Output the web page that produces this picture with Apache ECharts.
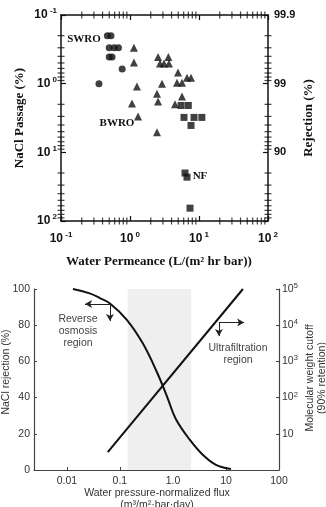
<!DOCTYPE html>
<html>
<head>
<meta charset="utf-8">
<script src="https://cdn.jsdelivr.net/npm/echarts@6/dist/echarts.min.js"></script>
<style>
  html, body { margin: 0; padding: 0; background: #fff; }
  #chart { width: 326px; height: 507px; }
</style>
</head>
<body>
<div id="chart"></div>
<script>
// --- top panel: salt passage vs water permeance (log-log) ---
const swroPerm = [0.47, 0.53, 0.50, 0.59, 0.68, 0.50, 0.55, 0.77, 0.355];
const swroPassage = [0.20, 0.20, 0.30, 0.30, 0.30, 0.41, 0.41, 0.61, 1.0];

const bwroPerm = [1.14, 1.14, 1.26, 1.07, 1.31, 2.46, 2.46, 2.55, 2.91, 2.55, 3.6, 2.72, 3.11, 3.67, 4.96, 6.7, 7.66, 4.8, 5.67, 5.67, 4.49];
const bwroPassage = [0.30, 0.49, 1.10, 1.95, 3.0, 5.1, 1.40, 1.82, 1.0, 0.41, 0.41, 0.51, 0.51, 0.51, 0.69, 0.82, 0.82, 0.97, 0.97, 1.54, 2.0];

const nfPerm = [5.5, 7.0, 6.06, 8.47, 11.0, 7.66, 6.27, 6.7, 7.41];
const nfPassage = [2.08, 2.08, 3.1, 3.1, 3.1, 4.06, 20, 23, 65];

const minorSteps = [2, 3, 4, 5, 6, 7, 8, 9];
const decades = [0.1, 1, 10];

// --- bottom panel: rejection / cutoff vs flux ---
const roFlux = [0.013, 0.027, 0.042, 0.065, 0.135, 0.27, 0.5, 0.8, 1.14, 2.09, 3.68, 6.48, 12.4];
const roRejection = [100, 97.6, 95, 92, 83, 70, 54, 39.5, 28, 16.6, 8.3, 2.8, 0.5];

const ufFlux = [0.059, 20.9];
const ufCutoff = [3.1, 100000];

const nfRange = [0.14, 2.2];

const zip = (a, b) => a.map((v, i) => [v, b[i]]);
const minorTicks = [];
decades.forEach(d => minorSteps.forEach(s => minorTicks.push(+(d * s).toPrecision(3))));

const chart = echarts.init(document.getElementById('chart'));

const serifBold = { fontFamily: 'Liberation Serif', fontWeight: 'bold', fill: '#111' };
const sans = 'Liberation Sans';

const supRich = {
  b: { fontSize: 12, fontWeight: 'bold', fontFamily: sans, color: '#111', lineHeight: 16 },
  s: { fontSize: 8, fontWeight: 'bold', fontFamily: sans, color: '#111', lineHeight: 9, verticalAlign: 'top' }
};
const supRichThin = {
  b: { fontSize: 10.5, fontFamily: sans, color: '#333', lineHeight: 14 },
  s: { fontSize: 7.5, fontFamily: sans, color: '#333', lineHeight: 8, verticalAlign: 'top' }
};

function powLabel(v) {
  const e = Math.round(Math.log10(v));
  return '{b|10}{s| ' + e + '}';
}

const topAxisLine = { show: true, onZero: false, lineStyle: { color: '#111', width: 1.5 } };
const topTick = { show: true, inside: true, length: 5, lineStyle: { color: '#111', width: 1.2 } };
const botAxisLine = { show: true, onZero: false, lineStyle: { color: '#444', width: 1.2 } };
const botTick = { show: true, inside: true, length: 3, lineStyle: { color: '#444', width: 1 } };

// log minor ticks of the top panel: thin marks placed through the axes, straddling the frame
const minorSides = [
  { size: [1.2, 7], pos: v => [v, 100] },
  { size: [1.2, 7], pos: v => [v, 0.1] },
  { size: [7, 1.2], pos: v => [0.1, v] },
  { size: [7, 1.2], pos: v => [100, v] }
];
const minorSeries = minorSides.map(s => ({
  type: 'scatter', xAxisIndex: 0, yAxisIndex: 0, clip: true,
  symbol: 'rect', symbolSize: s.size, itemStyle: { color: '#111' },
  data: minorTicks.map(s.pos)
}));

const option = {
  animation: false,
  backgroundColor: '#fff',
  grid: [
    { left: 61, top: 15, width: 207, height: 206, outerBoundsMode: 'none' },
    { left: 34, top: 289, width: 245, height: 181, outerBoundsMode: 'none' }
  ],
  xAxis: [{
    type: 'log', gridIndex: 0, min: 0.1, max: 100, position: 'bottom',
    axisLine: topAxisLine, axisTick: topTick, splitLine: { show: false },
    axisLabel: { margin: 10, formatter: powLabel, rich: supRich }
  }, {
    type: 'log', gridIndex: 0, min: 0.1, max: 100, position: 'top',
    axisLine: topAxisLine, axisTick: topTick, splitLine: { show: false },
    axisLabel: { show: false }
  }, {
    type: 'log', gridIndex: 1, min: 0.0024, max: 100, position: 'bottom',
    axisLine: botAxisLine, axisTick: botTick, splitLine: { show: false },
    axisLabel: {
      margin: 6, fontSize: 10.5, fontFamily: sans, color: '#333',
      formatter: v => {
        const e = Math.log10(v);
        if (Math.abs(e - Math.round(e)) > 1e-6) return '';
        return { '-2': '0.01', '-1': '0.1', '0': '1.0', '1': '10', '2': '100' }[Math.round(e)] || '';
      }
    }
  }],
  yAxis: [{
    type: 'log', gridIndex: 0, min: 0.1, max: 100, inverse: true, position: 'left',
    axisLine: topAxisLine, axisTick: topTick, splitLine: { show: false },
    axisLabel: { margin: 4, formatter: powLabel, rich: supRich }
  }, {
    type: 'log', gridIndex: 0, min: 0.1, max: 100, inverse: true, position: 'right',
    axisLine: topAxisLine, axisTick: topTick, splitLine: { show: false },
    axisLabel: {
      margin: 6, fontSize: 11, fontWeight: 'bold', fontFamily: sans, color: '#111',
      formatter: v => ({ '-1': '99.9', '0': '99', '1': '90' }[Math.round(Math.log10(v))] || '')
    }
  }, {
    type: 'value', gridIndex: 1, min: 0, max: 100, interval: 20, position: 'left',
    axisLine: botAxisLine, axisTick: botTick, splitLine: { show: false },
    axisLabel: { margin: 4, fontSize: 10.5, fontFamily: sans, color: '#333' }
  }, {
    type: 'log', gridIndex: 1, min: 1, max: 100000, position: 'right',
    axisLine: botAxisLine, axisTick: botTick, splitLine: { show: false },
    axisLabel: {
      margin: 3, rich: supRichThin,
      formatter: v => {
        const e = Math.round(Math.log10(v));
        if (e === 0) return '';
        if (e === 1) return '{b|10}';
        return '{b|10}{s|' + e + '}';
      }
    }
  }],
  series: [{
    name: 'SWRO', type: 'scatter', xAxisIndex: 0, yAxisIndex: 0,
    symbol: 'circle', symbolSize: 7, itemStyle: { color: '#111' },
    data: zip(swroPerm, swroPassage)
  }, {
    name: 'BWRO', type: 'scatter', xAxisIndex: 0, yAxisIndex: 0,
    symbol: 'triangle', symbolSize: 8, itemStyle: { color: '#111' },
    data: zip(bwroPerm, bwroPassage)
  }, {
    name: 'NF', type: 'scatter', xAxisIndex: 0, yAxisIndex: 0,
    symbol: 'rect', symbolSize: 7, itemStyle: { color: '#111' },
    data: zip(nfPerm, nfPassage)
  }].concat(minorSeries, [{
    name: 'NaCl rejection', type: 'line', xAxisIndex: 2, yAxisIndex: 2,
    smooth: 0.4, showSymbol: false, lineStyle: { color: '#111', width: 2 },
    data: zip(roFlux, roRejection),
    markArea: {
      silent: true, itemStyle: { color: '#efefef' },
      data: [[{ xAxis: nfRange[0] }, { xAxis: nfRange[1] }]]
    },
    markLine: {
      silent: true, symbol: ['none', 'arrow'], symbolSize: [6, 7],
      label: { show: false },
      lineStyle: { color: '#222', width: 1, type: 'solid' },
      data: [
        [{ coord: [0.065, 91.7] }, { coord: [0.022, 91.7] }],
        [{ coord: [0.065, 91.7] }, { coord: [0.065, 82.3] }],
        [{ coord: [7.37, 81.5] }, { coord: [7.37, 74.0] }],
        [{ coord: [7.37, 81.5] }, { coord: [22, 81.5] }]
      ]
    }
  }, {
    name: 'MWCO', type: 'line', xAxisIndex: 2, yAxisIndex: 3,
    showSymbol: false, lineStyle: { color: '#111', width: 2 },
    data: zip(ufFlux, ufCutoff)
  }]),
  graphic: [
    { type: 'text', x: 84, y: 39, style: Object.assign({ text: 'SWRO', fontSize: 11, textAlign: 'center', textVerticalAlign: 'middle' }, serifBold) },
    { type: 'text', x: 117, y: 123, style: Object.assign({ text: 'BWRO', fontSize: 11, textAlign: 'center', textVerticalAlign: 'middle' }, serifBold) },
    { type: 'text', x: 200, y: 176, style: Object.assign({ text: 'NF', fontSize: 11, textAlign: 'center', textVerticalAlign: 'middle' }, serifBold) },
    { type: 'text', x: 20, y: 118, rotation: Math.PI / 2, style: Object.assign({ text: 'NaCl Passage (%)', fontSize: 13, textAlign: 'center', textVerticalAlign: 'middle' }, serifBold) },
    { type: 'text', x: 309, y: 118, rotation: Math.PI / 2, style: Object.assign({ text: 'Rejection (%)', fontSize: 13, textAlign: 'center', textVerticalAlign: 'middle' }, serifBold) },
    { type: 'text', x: 159, y: 262, style: Object.assign({ text: 'Water Permeance (L/(m² hr bar))', fontSize: 13, textAlign: 'center', textVerticalAlign: 'middle' }, serifBold) },

    { type: 'text', x: 78, y: 331, style: { text: 'Reverse\nosmosis\nregion', fontSize: 10.5, lineHeight: 12, fontFamily: sans, fill: '#444', textAlign: 'center', textVerticalAlign: 'middle' } },
    { type: 'text', x: 161, y: 437.5, style: { text: 'Nano-\nfiltration\nregion', fontSize: 10.5, lineHeight: 12.5, fontFamily: sans, fill: '#444', textAlign: 'center', textVerticalAlign: 'middle' } },
    { type: 'text', x: 238, y: 354, style: { text: 'Ultrafiltration\nregion', fontSize: 10.5, lineHeight: 12, fontFamily: sans, fill: '#444', textAlign: 'center', textVerticalAlign: 'middle' } },
    { type: 'text', x: 6, y: 372, rotation: Math.PI / 2, style: { text: 'NaCl rejection (%)', fontSize: 10.5, fontFamily: sans, fill: '#333', textAlign: 'center', textVerticalAlign: 'middle' } },
    { type: 'text', x: 316, y: 378, rotation: Math.PI / 2, style: { text: 'Molecular weight cutoff\n(90% retention)', fontSize: 10.5, lineHeight: 12, fontFamily: sans, fill: '#333', textAlign: 'center', textVerticalAlign: 'middle' } },
    { type: 'text', x: 157, y: 499, style: { text: 'Water pressure-normalized flux\n(m³/m²·bar·day)', fontSize: 10.5, lineHeight: 12.5, fontFamily: sans, fill: '#333', textAlign: 'center', textVerticalAlign: 'middle' } }
  ]
};

chart.setOption(option);
</script>
</body>
</html>
